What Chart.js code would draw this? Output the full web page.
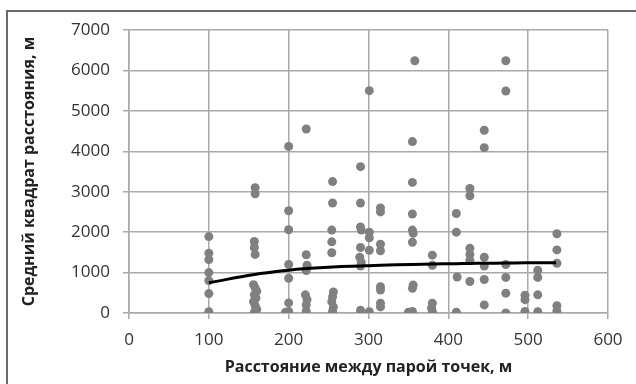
<!DOCTYPE html>
<html>
<head>
<meta charset="utf-8">
<script src="https://cdn.jsdelivr.net/npm/chart.js@4/dist/chart.umd.min.js"></script>
<style>
  html, body { margin: 0; padding: 0; background: #fff; }
  #wrap { width: 636px; height: 384px; }
</style>
</head>
<body>
<div id="wrap"><canvas id="variogramChart" width="636" height="384"></canvas></div>
<script>
// Variogram cloud: pair distance (m) vs mean squared difference
const cloudX = [
  100, 100, 100, 100, 100, 100, 100,
  158, 158, 157, 157, 158, 156, 158, 160, 157, 159, 156, 158, 160, 157,
  200, 200, 200, 200, 200, 200, 200, 196,
  222, 222, 223, 222, 221, 223, 222, 222,
  255, 255, 254, 254, 254, 256, 255, 254, 256, 255,
  290, 290, 290, 291, 290, 289, 291, 290, 290,
  301, 301, 301, 301, 301,
  315, 315, 315, 315, 315, 315, 315, 315,
  355, 355, 355, 355, 356, 355, 356, 355, 355, 350, 358,
  380, 380, 380, 379, 380,
  410, 410, 411, 410,
  427, 427, 427, 427, 427, 427,
  445, 445, 445, 445, 445, 445,
  472, 472, 472, 472, 472, 472,
  496, 496, 496,
  512, 512, 512, 512,
  536, 536, 536, 536, 536
];
const cloudY = [
  1890, 1480, 1320, 1000, 800, 480, 30,
  3100, 2950, 1770, 1620, 1450, 700, 620, 540, 450, 370, 280, 180, 90, 20,
  4120, 2530, 2060, 1200, 860, 250, 40, 20,
  4550, 1440, 1180, 1050, 450, 330, 200, 50,
  3250, 2720, 2050, 1760, 1490, 520, 400, 280, 150, 40,
  3620, 2720, 2130, 2050, 1620, 1380, 1250, 1160, 70,
  5500, 2000, 1860, 1550, 30,
  2600, 2500, 1700, 1540, 650, 570, 240, 150,
  4240, 3230, 2450, 2050, 1970, 1750, 690, 610, 40, 20, 6240,
  1430, 1180, 240, 120, 30,
  2460, 2000, 890, 20,
  3080, 2900, 1600, 1450, 1300, 780,
  4520, 4090, 1380, 1160, 830, 200,
  6240, 5490, 1200, 880, 490, 0,
  440, 330, 40,
  1060, 880, 450, 30,
  1960, 1560, 1230, 180, 50
];
// Fitted model curve
const modelX = [100, 157, 200, 222, 255, 290, 300, 315, 355, 380, 410, 427, 445, 472, 496, 512, 535];
const modelY = [750, 950, 1060, 1100, 1140, 1165, 1170, 1180, 1200, 1210, 1220, 1225, 1230, 1235, 1240, 1240, 1245];

const xTicks = [0, 100, 200, 300, 400, 500, 600];
const yTicks = [0, 1000, 2000, 3000, 4000, 5000, 6000, 7000];

const gridGrey = "#a9a9a9";

const frame = {
  id: "frame",
  afterDraw(chart) {
    const ctx = chart.ctx;
    ctx.save();
    ctx.strokeStyle = "#6b6b6b";
    ctx.lineWidth = 2;
    ctx.beginPath();
    ctx.moveTo(7, 384);
    ctx.lineTo(7, 11);
    ctx.lineTo(636, 11);
    ctx.stroke();
    ctx.restore();
  },
};

new Chart(document.getElementById("variogramChart").getContext("2d"), {
  type: "scatter",
  data: {
    datasets: [
      {
        label: "Model",
        data: modelX.map((x, i) => ({ x: x, y: modelY[i] })),
        showLine: true,
        borderColor: "#000",
        borderWidth: 3,
        pointRadius: 0,
        tension: 0.4,
        fill: false,
      },
      {
        label: "Cloud",
        data: cloudX.map((x, i) => ({ x: x, y: cloudY[i] })),
        backgroundColor: "#808080",
        borderColor: "#808080",
        borderWidth: 0,
        pointRadius: 4.5,
      },
    ],
  },
  options: {
    responsive: false,
    animation: false,
    layout: { padding: { left: 8, top: 30, right: 28, bottom: 0 } },
    plugins: { legend: { display: false }, tooltip: { enabled: false } },
    scales: {
      x: {
        type: "linear",
        min: 0,
        max: 600,
        afterBuildTicks: (s) => { s.ticks = xTicks.map((v) => ({ value: v })); },
        afterFit: (s) => { s.height = 71; },
        grid: { color: gridGrey, lineWidth: 1.5, tickLength: 6, tickColor: gridGrey },
        border: { color: gridGrey, width: 1.5 },
        ticks: {
          color: "#333",
          padding: 11,
          font: { family: "Open Sans", size: 17 },
          callback: (v) => String(v),
        },
        title: {
          display: true,
          text: "Расстояние между парой точек, м",
          color: "#222",
          padding: { top: 0, bottom: 7 },
          font: { family: "Open Sans", size: 16, weight: "bold" },
        },
      },
      y: {
        min: 0,
        max: 7000,
        afterBuildTicks: (s) => { s.ticks = yTicks.map((v) => ({ value: v })); },
        afterFit: (s) => { s.width = 121; },
        grid: { color: gridGrey, lineWidth: 1.5, tickLength: 6, tickColor: gridGrey },
        border: { color: gridGrey, width: 1.5 },
        ticks: {
          color: "#333",
          padding: 13,
          font: { family: "Open Sans", size: 17 },
          callback: (v) => String(v),
        },
        title: {
          display: true,
          text: "Средний квадрат расстояния, м",
          color: "#222",
          padding: { top: 12, bottom: 0 },
          font: { family: "Open Sans", size: 16, weight: "bold" },
        },
      },
    },
  },
  plugins: [frame],
});
</script>
</body>
</html>
